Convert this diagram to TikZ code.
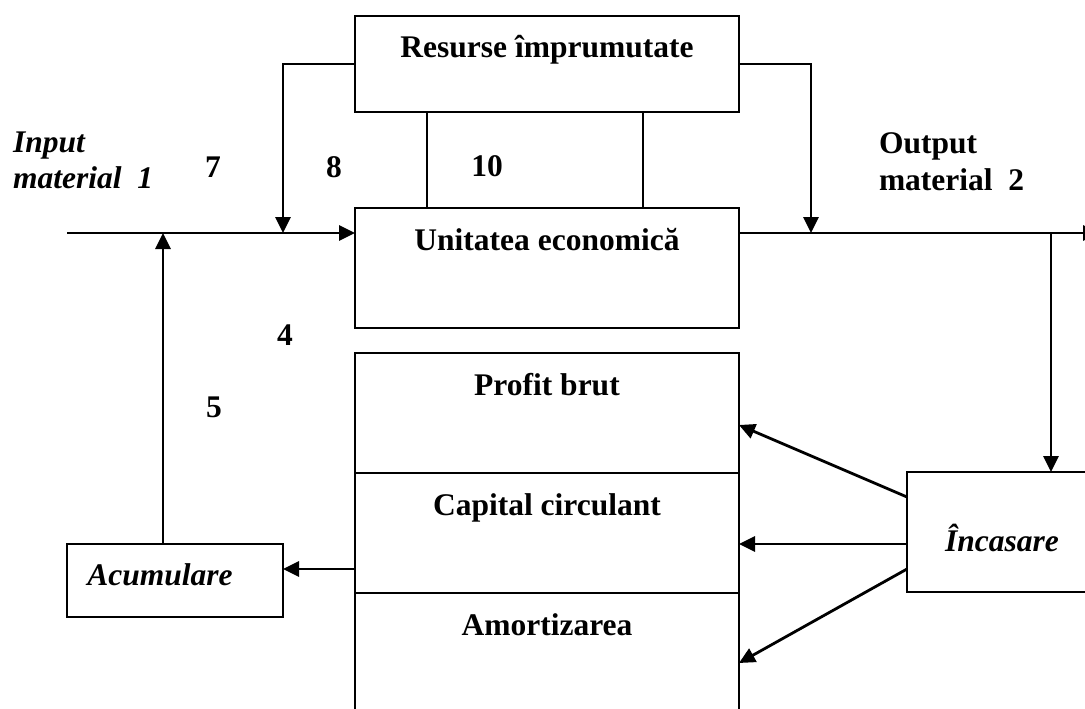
\documentclass[tikz,border=0pt]{standalone}
\usepackage{fontspec}
\setmainfont{Liberation Serif}
\usetikzlibrary{arrows.meta}
\begin{document}
\begin{tikzpicture}[x=1pt,y=-1pt,line width=2.8pt,
  font=\fontsize{31.5}{36}\selectfont\bfseries,
  box/.style={draw,rectangle,inner sep=0pt,outer sep=0pt},
  txt/.style={inner sep=0pt,outer sep=0pt,anchor=base},
  lbl/.style={inner sep=0pt,outer sep=0pt,anchor=base west},
  ital/.style={font=\fontsize{31.5}{36}\selectfont\bfseries\itshape},
  flow/.style={-{Triangle[length=16pt,width=15pt]}}]
\useasboundingbox (0,0) rectangle (1085,709);
\clip (0,0) rectangle (1085,709);

% boxes
\node[box,minimum width=384pt,minimum height=96pt]  (res) at (547,64) {};
\node[box,minimum width=384pt,minimum height=120pt] (ue)  at (547,268) {};
\node[box,minimum width=384pt,minimum height=120pt] (pb)  at (547,413) {};
\node[box,minimum width=384pt,minimum height=120pt] (cc)  at (547,533) {};
\node[box,minimum width=384pt,minimum height=130pt] (am)  at (547,658) {};
\node[box,minimum width=216pt,minimum height=73pt]  (acu) at (175,580.5) {};
\node[box,minimum width=220pt,minimum height=120pt] (inc) at (1017,532) {};

% box texts
\node[txt] (res-t) at (547,58)  {Resurse împrumutate};
\node[txt] (ue-t)  at (547,250) {Unitatea economică};
\node[txt] (pb-t)  at (547,395) {Profit brut};
\node[txt] (cc-t)  at (547,515) {Capital circulant};
\node[txt] (am-t)  at (547,635) {Amortizarea};
\node[txt,ital] (acu-t) at (160,585) {Acumulare};
\node[txt,ital] (inc-t) at (1002,551) {Încasare};

% free labels
\node[lbl,ital] (in1) at (13,152) {Input};
\node[lbl,ital] (in2) at (13,188) {material\ \ 1};
\node[lbl] (out1) at (879,153) {Output};
\node[lbl] (out2) at (879,190) {material\ \ 2};
\node[txt] (n7)  at (213,177) {7};
\node[txt] (n8)  at (334,177) {8};
\node[txt] (n10) at (487,176) {10};
\node[txt] (n4)  at (285,345) {4};
\node[txt] (n5)  at (214,417) {5};

% junctions on the main flow line
\coordinate (inL)  at (67,233);
\coordinate (jacu) at (163,233);
\coordinate (jres) at (283,233);
\coordinate (jout) at (811,233);
\coordinate (jinc) at (1051,233);
\coordinate (outR) at (1099,233);

% main flow
\draw[flow] (inL) -- (inL -| ue.west);
\draw[flow] (ue.east |- jout) -- (outR);
\draw[flow] (jacu |- acu.north) -- (jacu);
\draw[flow] (res.west) -| (jres);
\draw[flow] (res.east) -| (jout);
\draw[flow] (jinc) -- (jinc |- inc.north);

% links between borrowed resources and the unit
\draw (427,0 |- res.south) -- (427,0 |- ue.north);
\draw (643,0 |- res.south) -- (643,0 |- ue.north);

% distribution of receipts
\draw[flow] (inc.west |- 0,497) -- (pb.east |- 0,425);
\draw[flow] (inc.west |- 0,544) -- (cc.east |- 0,544);
\draw[flow] (inc.west |- 0,569) -- (am.east |- 0,663);

% accumulation
\draw[flow] (cc.west |- 0,569) -- (acu.east |- 0,569);
\end{tikzpicture}
\end{document}
